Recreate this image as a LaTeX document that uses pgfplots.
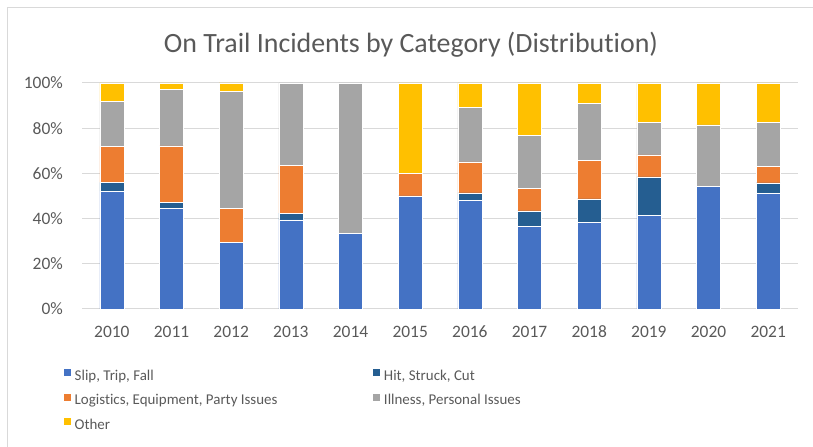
\documentclass[border=0pt]{standalone}
\usepackage{fontspec}
\setmainfont[RawFeature={-liga;-clig;-calt;-dlig}]{Carlito}
\usepackage{pgfplots}
\usepackage{pgfplotstable}
\pgfplotsset{compat=1.18}
\definecolor{cslip}{HTML}{4472C4}
\definecolor{chit}{HTML}{255E91}
\definecolor{clog}{HTML}{ED7D31}
\definecolor{cill}{HTML}{A5A5A5}
\definecolor{coth}{HTML}{FFC000}
\definecolor{textgray}{HTML}{595959}
\definecolor{gridgray}{HTML}{D9D9D9}
\pgfplotstableread{
x slip hit log ill oth
0 52.0 4.0 16.0 20.0 8.0
1 44.4 2.8 25.0 25.0 2.8
2 29.6 0.0 14.8 51.9 3.7
3 39.4 3.0 21.2 36.4 0.0
4 33.3 0.0 0.0 66.7 0.0
5 50.0 0.0 10.0 0.0 40.0
6 48.0 3.4 13.7 24.1 10.8
7 36.7 6.7 10.0 23.3 23.3
8 38.4 10.3 16.9 25.5 8.9
9 41.4 17.1 9.7 14.4 17.4
10 54.4 0.0 0.0 27.1 18.5
11 51.3 4.5 7.4 19.4 17.4
}\datatable
\begin{document}
\begin{tikzpicture}[x=1bp,y=1bp]
\path[use as bounding box] (0,0) rectangle (813,447);
\draw[gridgray, line width=0.8bp] (7,0) -- (7,440) -- (813,440);
\node[font=\fontsize{28}{32}\selectfont, text=textgray] at (411,402) {On Trail Incidents by Category (Distribution)};
\begin{axis}[
  at={(82bp,138bp)}, anchor=south west,
  scale only axis, width=716bp, height=226bp,
  ybar stacked, bar width=24bp,
  xmin=-0.5, xmax=11.5, ymin=0, ymax=100,
  xtick={0,...,11},
  xticklabels={2010,2011,2012,2013,2014,2015,2016,2017,2018,2019,2020,2021},
  ytick={0,20,40,60,80,100},
  yticklabel={\pgfmathprintnumber{\tick}\%},
  /pgf/number format/assume math mode=true,
  ymajorgrids, grid style={gridgray, line width=1bp},
  axis line style={draw=none},
  major tick length=0pt,
  tick label style={font=\fontsize{17.5}{20}\selectfont, text=textgray},
  yticklabel style={anchor=east, inner sep=0pt, xshift=-19bp},
  xticklabel style={anchor=center, inner sep=0pt, yshift=-23bp},
  legend columns=2,
  legend image code/.code={\fill[#1] (0bp,0bp) rectangle (8bp,8bp);},
  legend style={
    at={(-0.0265,-0.261)}, anchor=north west,
    draw=none, fill=none, inner sep=0pt,
    font=\fontsize{15}{18}\selectfont, text=textgray,
    nodes={inner sep=1bp, text height=11bp, text depth=3.5bp},
    row sep=8bp,
    /tikz/column 1/.style={column sep=2bp},
    /tikz/column 2/.style={column sep=94bp},
    /tikz/column 3/.style={column sep=2bp},
  },
  legend cell align=left,
]
\addplot[fill=cslip, draw=white, line width=0.5bp] table[x=x, y=slip] {\datatable};
\addplot[fill=chit, draw=white, line width=0.5bp] table[x=x, y=hit] {\datatable};
\addplot[fill=clog, draw=white, line width=0.5bp] table[x=x, y=log] {\datatable};
\addplot[fill=cill, draw=white, line width=0.5bp] table[x=x, y=ill] {\datatable};
\addplot[fill=coth, draw=white, line width=0.5bp] table[x=x, y=oth] {\datatable};
\legend{{Slip, Trip, Fall},{Hit, Struck, Cut},{Logistics, Equipment, Party Issues},{Illness, Personal Issues},Other}
\end{axis}
\end{tikzpicture}
\end{document}
